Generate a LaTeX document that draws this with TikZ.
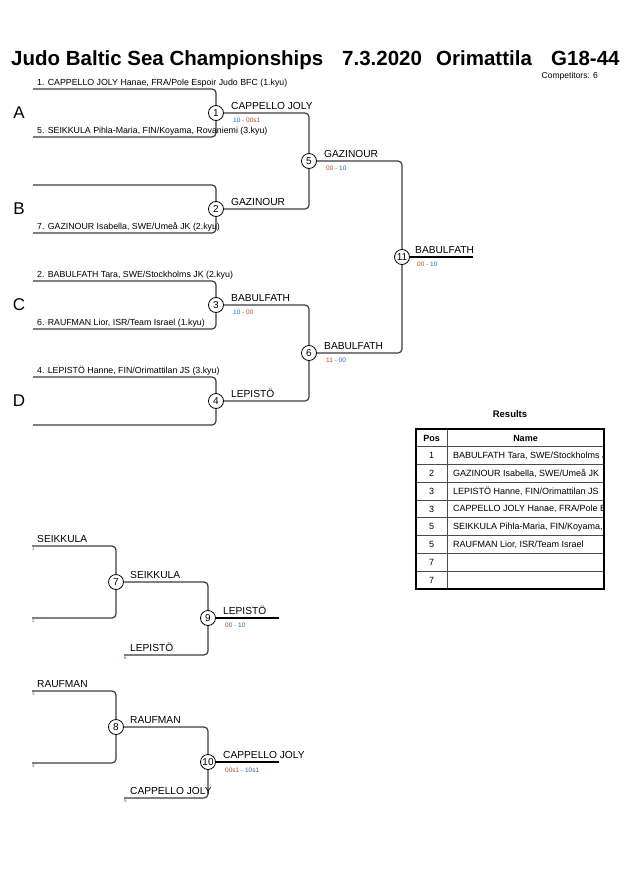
\documentclass[tikz,border=0pt]{standalone}
\usepackage{fontspec}
\setmainfont{Liberation Sans}
\definecolor{brline}{RGB}{60,60,60}
\definecolor{scw}{RGB}{50,100,175}
\definecolor{scl}{RGB}{165,80,40}
\definecolor{scd}{RGB}{110,110,110}
\begin{document}
\begin{tikzpicture}[x=1pt,y=-1pt,
  br/.style={draw=brline, line width=1.2pt, rounded corners=4pt},
  fin/.style={draw=black, line width=1.2pt},
  mt/.style={circle, draw=black, line width=0.8pt, fill=white, inner sep=0pt, minimum size=15pt, font=\fontsize{10}{10}\selectfont},
  ent/.style={anchor=base west, inner sep=0pt, font=\fontsize{8.8}{10}\selectfont},
  win/.style={anchor=base west, inner sep=0pt, font=\fontsize{10.2}{11}\selectfont},
  sc/.style={anchor=base west, inner sep=0pt, font=\fontsize{6.5}{7}\selectfont},
  pool/.style={inner sep=0pt, font=\fontsize{17}{17}\selectfont},
  tiny/.style={anchor=north west, inner sep=0pt, font=\fontsize{4.5}{5}\selectfont},
  ttl/.style={anchor=base west, inner sep=0pt, font=\fontsize{20.5}{21}\selectfont\bfseries},
  cell/.style={inner sep=0pt, font=\fontsize{9}{10}\selectfont},
  rowline/.style={draw=black!70, line width=0.6pt}
]
\useasboundingbox (0,0) rectangle (630,891);

% ---------- title ----------
\node[ttl] (t1) at (11,66) {Judo Baltic Sea Championships};
\node[ttl] (t2) at (342,66) {7.3.2020};
\node[ttl] (t3) at (436,66) {Orimattila};
\node[ttl] (t4) at (551,66) {G18-44};
\node[anchor=base east, inner sep=0pt, font=\fontsize{8.5}{9}\selectfont] (comp) at (598,78) {Competitors: 6};

% ---------- pools ----------
\node[pool] (pA) at (19,113) {A};
\node[pool] (pB) at (19,209) {B};
\node[pool] (pC) at (19,305) {C};
\node[pool] (pD) at (19,401) {D};

% ---------- main bracket matches ----------
\node[mt] (m1) at (216,113) {1};
\node[mt] (m2) at (216,209) {2};
\node[mt] (m3) at (216,305) {3};
\node[mt] (m4) at (216,401) {4};
\node[mt] (m5) at (309,161) {5};
\node[mt] (m6) at (309,353) {6};
\node[mt] (m11) at (402,257) {11};

\coordinate (e1) at (33,89);
\coordinate (e5) at (33,137);
\coordinate (eb) at (33,185);
\coordinate (e7) at (33,233);
\coordinate (e2) at (33,281);
\coordinate (e6) at (33,329);
\coordinate (e4) at (33,377);
\coordinate (ed) at (33,425);
\coordinate (fend) at (473,257);

\draw[br] (e1) -| (m1);
\draw[br] (e5) -| (m1);
\draw[br] (eb) -| (m2);
\draw[br] (e7) -| (m2);
\draw[br] (e2) -| (m3);
\draw[br] (e6) -| (m3);
\draw[br] (e4) -| (m4);
\draw[br] (ed) -| (m4);
\draw[br] (m1) -| (m5);
\draw[br] (m2) -| (m5);
\draw[br] (m3) -| (m6);
\draw[br] (m4) -| (m6);
\draw[br] (m5) -| (m11);
\draw[br] (m6) -| (m11);
\draw[fin] (m11) -- (fend);

% entries
\node[ent] (n1) at (37,85.5) {1. CAPPELLO JOLY Hanae, FRA/Pole Espoir Judo BFC (1.kyu)};
\node[ent] (n5) at (37,133.5) {5. SEIKKULA Pihla-Maria, FIN/Koyama, Rovaniemi (3.kyu)};
\node[ent] (n7) at (37,229.5) {7. GAZINOUR Isabella, SWE/Umeå JK (2.kyu)};
\node[ent] (n2) at (37,277.5) {2. BABULFATH Tara, SWE/Stockholms JK (2.kyu)};
\node[ent] (n6) at (37,325.5) {6. RAUFMAN Lior, ISR/Team Israel (1.kyu)};
\node[ent] (n4) at (37,373.5) {4. LEPISTÖ Hanne, FIN/Orimattilan JS (3.kyu)};

% winners and scores
\node[win] (w1) at (231,109) {CAPPELLO JOLY};
\node[sc] (s1) at (233,122) {\textcolor{scw}{10} \textcolor{scd}{-} \textcolor{scl}{00s1}};
\node[win] (w2) at (231,205) {GAZINOUR};
\node[win] (w3) at (231,301) {BABULFATH};
\node[sc] (s3) at (233,314) {\textcolor{scw}{10} \textcolor{scd}{-} \textcolor{scl}{00}};
\node[win] (w4) at (231,397) {LEPISTÖ};
\node[win] (w5) at (324,157) {GAZINOUR};
\node[sc] (s5) at (326,170) {\textcolor{scl}{00} \textcolor{scd}{-} \textcolor{scw}{10}};
\node[win] (w6) at (324,349) {BABULFATH};
\node[sc] (s6) at (326,362) {\textcolor{scl}{11} \textcolor{scd}{-} \textcolor{scw}{00}};
\node[win] (w11) at (415,253) {BABULFATH};
\node[sc] (s11) at (417,266) {\textcolor{scl}{00} \textcolor{scd}{-} \textcolor{scw}{10}};

% ---------- results table ----------
\node[inner sep=0pt, font=\fontsize{9.5}{10}\selectfont\bfseries] (rt) at (510,414) {Results};
\foreach \i in {1,...,8} {
  \draw[rowline] (416,{429+17.75*\i}) -- (604,{429+17.75*\i});
}
\draw[rowline] (447,429) -- (447,589);
\draw[draw=black, line width=1.3pt] (416,429) rectangle (604,589);
\node[cell, font=\fontsize{9}{10}\selectfont\bfseries] (hp) at (431.5,438) {Pos};
\node[cell, font=\fontsize{9}{10}\selectfont\bfseries] (hn) at (525.5,438) {Name};
\foreach \p [count=\i] in {1,2,3,3,5,5,7,7} {
  \node[cell] at (431.5,{429+17.75*\i+9}) {\p};
}
\begin{scope}
\clip (448,447) rectangle (603,588);
\foreach \n [count=\i] in {{BABULFATH Tara, SWE/Stockholms JK},{GAZINOUR Isabella, SWE/Umeå JK},{LEPISTÖ Hanne, FIN/Orimattilan JS},{CAPPELLO JOLY Hanae, FRA/Pole Espoir Judo BFC},{SEIKKULA Pihla-Maria, FIN/Koyama, Rovaniemi},{RAUFMAN Lior, ISR/Team Israel}} {
  \node[cell, anchor=west] at (453,{429+17.75*\i+9}) {\n};
}
\end{scope}

% ---------- repechage ----------
\node[mt] (m7) at (116,582) {7};
\node[mt] (m9) at (208,618) {9};
\node[mt] (m8) at (116,727) {8};
\node[mt] (m10) at (208,762) {10};
\coordinate (r1) at (32,546);
\coordinate (r2) at (32,618);
\coordinate (r6) at (124,655);
\coordinate (r3) at (32,691);
\coordinate (r4) at (32,763);
\coordinate (r5) at (124,798);
\coordinate (f9) at (279,618);
\coordinate (f10) at (279,762);

\draw[br] (r1) -| (m7);
\draw[br] (r2) -| (m7);
\draw[br] (m7) -| (m9);
\draw[br] (r6) -| (m9);
\draw[fin] (m9) -- (f9);
\draw[br] (r3) -| (m8);
\draw[br] (r4) -| (m8);
\draw[br] (m8) -| (m10);
\draw[br] (r5) -| (m10);
\draw[fin] (m10) -- (f10);

\node[tiny, text=scw] (q1) at (32,547.5) {1};
\node[tiny, text=scl] (q2) at (32,619.5) {2};
\node[tiny, text=scl] (q6) at (124,656.5) {6};
\node[tiny, text=scl] (q3) at (32,692.5) {3};
\node[tiny, text=scw] (q4) at (32,764.5) {4};
\node[tiny, text=scl] (q5) at (124,799.5) {5};

\node[win] (rw1) at (37,542) {SEIKKULA};
\node[win] (rw7) at (130,578) {SEIKKULA};
\node[win] (rw6) at (130,651) {LEPISTÖ};
\node[win] (rw9) at (223,614) {LEPISTÖ};
\node[sc] (rs9) at (225,627) {\textcolor{scl}{00} \textcolor{scd}{-} \textcolor{scw}{10}};
\node[win] (rw3) at (37,687) {RAUFMAN};
\node[win] (rw8) at (130,723) {RAUFMAN};
\node[win] (rw5) at (130,794) {CAPPELLO JOLY};
\node[win] (rw10) at (223,758) {CAPPELLO JOLY};
\node[sc] (rs10) at (225,772) {\textcolor{scl}{00s1} \textcolor{scd}{-} \textcolor{scw}{10s1}};
\end{tikzpicture}
\end{document}
